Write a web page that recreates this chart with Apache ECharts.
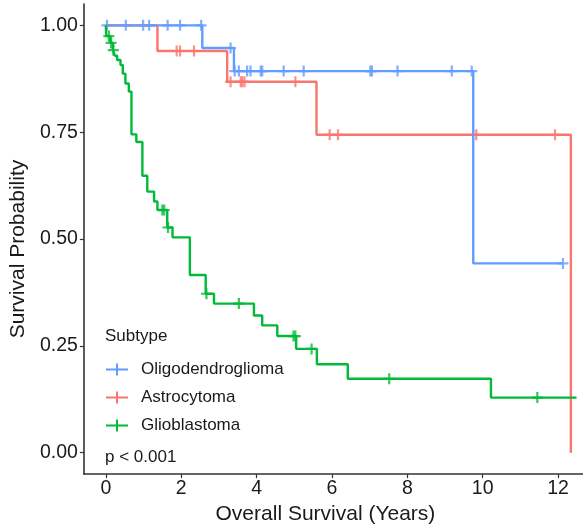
<!DOCTYPE html>
<html>
<head>
<meta charset="utf-8">
<script src="https://cdn.jsdelivr.net/npm/echarts@6/dist/echarts.min.js"></script>
<style>
html,body{margin:0;padding:0;background:#fff;overflow:hidden;}
#chart{width:583px;height:530px;}
</style>
</head>
<body>
<div id="chart"></div>
<script>
// ---- data ----
const seriesNames = ['Oligodendroglioma', 'Astrocytoma', 'Glioblastoma'];
const xTicks = [0, 2, 4, 6, 8, 10, 12];
const yTicks = [0, 0.25, 0.5, 0.75, 1];

const oligoTimes = [0, 2.56, 3.40, 9.75, 12.13];
const oligoSurv  = [1, 0.947, 0.893, 0.443, 0.443];
const oligoCensorTimes = [0.03, 0.53, 0.99, 1.15, 1.64, 1.97, 2.53, 3.31, 3.42, 3.53, 3.75, 3.84, 4.11, 4.15, 4.72, 5.25, 7.02, 7.06, 7.74, 9.18, 9.71, 12.13];
const oligoCensorSurv  = [1, 1, 1, 1, 1, 1, 1, 0.947, 0.893, 0.893, 0.893, 0.893, 0.893, 0.893, 0.893, 0.893, 0.893, 0.893, 0.893, 0.893, 0.893, 0.443];

const astroTimes = [0, 1.37, 3.22, 5.59, 12.34];
const astroSurv  = [1, 0.94, 0.868, 0.744, 0];
const astroCensorTimes = [1.88, 1.97, 2.34, 3.31, 3.58, 3.62, 3.68, 5.03, 5.94, 6.16, 9.83, 11.92];
const astroCensorSurv  = [0.94, 0.94, 0.94, 0.868, 0.868, 0.868, 0.868, 0.868, 0.744, 0.744, 0.744, 0.744];

const gbmTimes = [0, 0.01, 0.12, 0.19, 0.24, 0.30, 0.39, 0.45, 0.52, 0.61, 0.68, 0.81, 0.97, 1.10, 1.28, 1.37, 1.63, 1.77, 2.23, 2.65, 2.87, 3.93, 4.15, 4.55, 5.05, 5.60, 6.42, 10.22, 12.49];
const gbmSurv  = [1, 0.975, 0.959, 0.942, 0.929, 0.919, 0.907, 0.887, 0.864, 0.845, 0.745, 0.727, 0.648, 0.611, 0.588, 0.568, 0.527, 0.504, 0.416, 0.372, 0.349, 0.321, 0.298, 0.273, 0.243, 0.207, 0.173, 0.129, 0.129];
const gbmCensorTimes = [0.08, 0.14, 0.20, 1.50, 1.55, 1.65, 2.67, 3.53, 4.98, 5.03, 5.46, 7.52, 11.45];
const gbmCensorSurv  = [0.975, 0.959, 0.942, 0.568, 0.568, 0.527, 0.372, 0.349, 0.273, 0.273, 0.243, 0.173, 0.129];

const colors = {Oligodendroglioma: '#619CFF', Astrocytoma: '#F8766D', Glioblastoma: '#00BA38'};

// ---- build ----
const zip = (a, b) => a.map((v, i) => [v, b[i]]);
const plusSym = 'path://M4,0H6V4H10V6H6V10H4V6H0V4H4Z';
const legendPlus = 'path://M0,5H10V0H12V5H22V7H12V12H10V7H0Z';
const FONT = '"Liberation Sans", Arial, Helvetica, sans-serif';

function kmLine(name, t, s) {
  return {
    name, type: 'line', step: 'end', data: zip(t, s), showSymbol: false,
    lineStyle: {width: 2.4, color: colors[name]}, itemStyle: {color: colors[name]},
    animation: false, silent: true
  };
}
function censor(name, t, s) {
  return {
    name, type: 'scatter', data: zip(t, s), symbol: plusSym, symbolSize: 11,
    itemStyle: {color: colors[name]}, animation: false, silent: true
  };
}

const chart = echarts.init(document.getElementById('chart'), null, {renderer: 'canvas'});
chart.setOption({
  backgroundColor: '#fff',
  textStyle: {fontFamily: FONT},
  title: [
    {text: 'Subtype', left: 105, top: 328, padding: 0,
     textStyle: {fontSize: 17, fontWeight: 'normal', color: '#1a1a1a', fontFamily: FONT}},
    {text: 'p < 0.001', left: 105, top: 449, padding: 0,
     textStyle: {fontSize: 17, fontWeight: 'normal', color: '#1a1a1a', fontFamily: FONT}}
  ],
  legend: {
    data: seriesNames, orient: 'vertical', left: 106, top: 361, padding: 0,
    itemWidth: 22, itemHeight: 12, itemGap: 11, icon: legendPlus,
    textStyle: {fontSize: 17, color: '#1a1a1a', fontFamily: FONT, padding: [0, 0, 0, 8]},
    selectedMode: false
  },
  grid: {left: 83, right: 0, top: 4, bottom: 43, containLabel: false},
  xAxis: {
    type: 'value', min: -0.583, max: 12.662,
    name: 'Overall Survival (Years)', nameLocation: 'middle', nameGap: 21,
    nameTextStyle: {fontSize: 21, color: '#1a1a1a', fontFamily: FONT, padding: [0, 16, 0, 0]},
    axisLine: {show: true, onZero: false, lineStyle: {color: '#333', width: 1.6}},
    axisTick: {show: true, length: 4, customValues: xTicks, lineStyle: {color: '#333', width: 1.2}},
    axisLabel: {customValues: xTicks, fontSize: 19.5, color: '#1a1a1a', margin: 5, fontFamily: FONT},
    splitLine: {show: false}
  },
  yAxis: {
    type: 'value', min: -0.05, max: 1.05,
    name: 'Survival Probability', nameLocation: 'middle', nameGap: 48,
    nameTextStyle: {fontSize: 21, color: '#1a1a1a', fontFamily: FONT, padding: [0, 20, 0, 0]},
    axisLine: {show: true, onZero: false, lineStyle: {color: '#333', width: 1.6}},
    axisTick: {show: true, length: 4, customValues: yTicks, lineStyle: {color: '#333', width: 1.2}},
    axisLabel: {customValues: yTicks, fontSize: 19.5, color: '#1a1a1a', margin: 6, fontFamily: FONT,
      formatter: v => v.toFixed(2)},
    splitLine: {show: false}
  },
  series: [
    kmLine('Astrocytoma', astroTimes, astroSurv),
    kmLine('Oligodendroglioma', oligoTimes, oligoSurv),
    kmLine('Glioblastoma', gbmTimes, gbmSurv),
    censor('Astrocytoma', astroCensorTimes, astroCensorSurv),
    censor('Oligodendroglioma', oligoCensorTimes, oligoCensorSurv),
    censor('Glioblastoma', gbmCensorTimes, gbmCensorSurv)
  ]
});
</script>
</body>
</html>
